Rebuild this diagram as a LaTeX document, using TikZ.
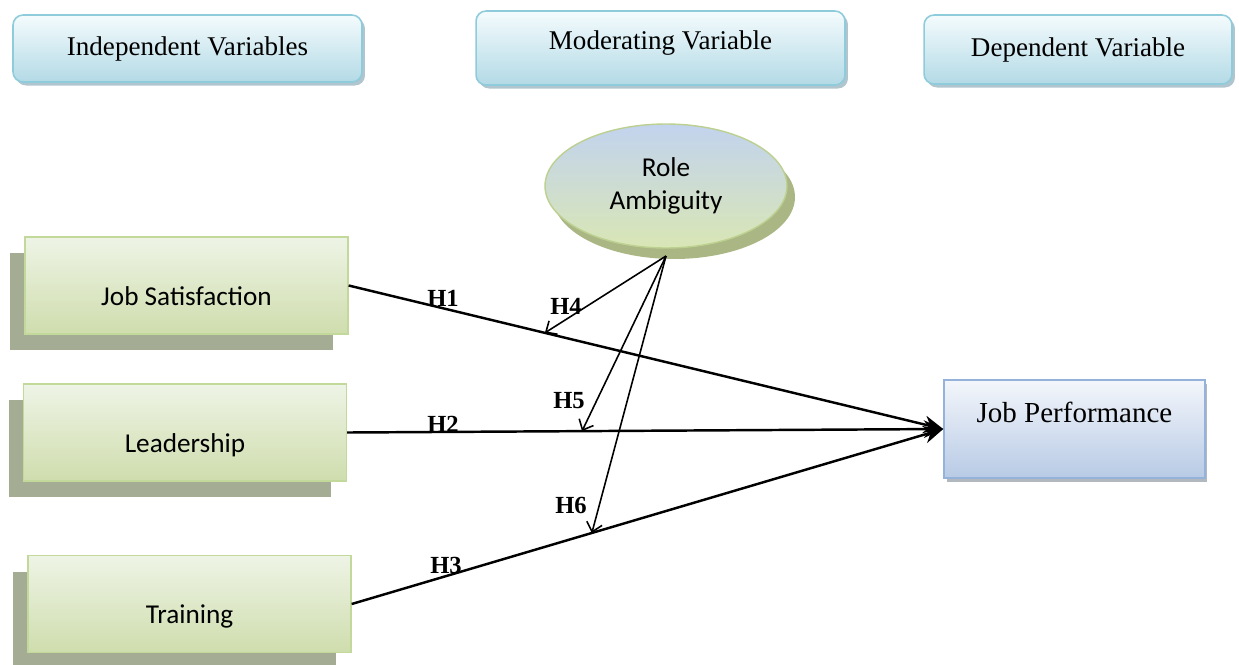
\documentclass[tikz,border=0pt]{standalone}
\usepackage{fontspec}
\setmainfont{Liberation Serif}
\newfontfamily\calibri{Carlito}
\usetikzlibrary{shapes.geometric,shadows,arrows.meta,calc}

\definecolor{hdrline}{HTML}{8ECBDB}
\definecolor{hdrtop}{HTML}{F4FBFD}
\definecolor{hdrbot}{HTML}{B3DAE6}
\definecolor{hdrshadow}{HTML}{7C9FAC}
\definecolor{grnline}{HTML}{C3D99B}
\definecolor{grntop}{HTML}{EEF4E6}
\definecolor{grnbot}{HTML}{CFDDAD}
\definecolor{grnshadow}{HTML}{A4AD93}
\definecolor{ellline}{HTML}{BCD08F}
\definecolor{elltop}{HTML}{C2D3EE}
\definecolor{ellbot}{HTML}{D9E6B5}
\definecolor{ellshadow}{HTML}{AAB684}
\definecolor{jpline}{HTML}{95B3DA}
\definecolor{jptop}{HTML}{F3F6FB}
\definecolor{jpbot}{HTML}{B8CAE5}
\definecolor{jpshadow}{HTML}{9EA6AE}

\begin{document}
\begin{tikzpicture}[x=0.02cm,y=-0.02cm,
  header/.style={draw=hdrline,line width=0.9pt,rounded corners=0.2cm,
    top color=hdrtop,bottom color=hdrbot,
    drop shadow={shadow xshift=0.06cm,shadow yshift=-0.07cm,fill=hdrshadow,opacity=0.6},
    font=\fontsize{15.4}{17}\selectfont},
  varbox/.style={draw=grnline,line width=0.8pt,top color=grntop,bottom color=grnbot,
    minimum width=6.46cm,minimum height=1.94cm,text height=0.88cm,text depth=0.1cm,
    drop shadow={shadow xshift=-0.3cm,shadow yshift=-0.32cm,fill=grnshadow,opacity=1},
    font=\calibri\fontsize{15.5}{17}\selectfont},
  hyp/.style={font=\bfseries\fontsize{14}{16}\selectfont,inner sep=0pt},
  mainarrow/.style={line width=1.4pt,-{Stealth[length=11pt,width=10pt]}},
  modarrow/.style={line width=0.9pt,-{Straight Barb[length=5pt,width=9pt]}}]
\useasboundingbox (0,0) rectangle (1239,664);

% column headers
\node[header,minimum width=6.98cm,minimum height=1.34cm] (iv) at (187.5,48.5) {Independent Variables};
\node[header,minimum width=7.38cm,minimum height=1.48cm,text depth=0.32cm] (mv) at (660.5,48) {Moderating Variable};
\node[header,minimum width=6.16cm,minimum height=1.38cm] (dv) at (1078,49.5) {Dependent Variable};

% variables
\node[ellipse,draw=ellline,line width=0.8pt,top color=elltop,bottom color=ellbot,
  minimum width=4.84cm,minimum height=2.48cm,align=center,
  drop shadow={shadow xshift=0.16cm,shadow yshift=-0.22cm,fill=ellshadow,opacity=1},
  font=\calibri\fontsize{15.5}{18.7}\selectfont] (ra) at (666,186) {Role\\Ambiguity};
\node[varbox] (js) at (186.5,285.5) {Job Satisfaction};
\node[varbox] (ld) at (185,432.5) {Leadership};
\node[varbox] (tr) at (189.5,604) {Training};
\node[draw=jpline,line width=0.9pt,top color=jptop,bottom color=jpbot,
  minimum width=5.22cm,inner ysep=0pt,text height=0.84cm,text depth=1.12cm,
  drop shadow={shadow xshift=0.05cm,shadow yshift=-0.07cm,fill=jpshadow,opacity=0.8},
  font=\fontsize{16.5}{18}\selectfont] (jp) at (1074.5,429) {Job Performance};

% direct paths
\draw[mainarrow] (js.east) -- (jp.west);
\draw[mainarrow] (ld.east) -- (jp.west);
\draw[mainarrow] (tr.east) -- (jp.west);

% moderating paths
\coordinate (rafoot) at (666,256);
\coordinate (h4end) at ($(js.east)!0.33!(jp.west)$);
\coordinate (h5end) at ($(ld.east)!0.394!(jp.west)$);
\coordinate (h6end) at ($(tr.east)!0.406!(jp.west)$);
\draw[modarrow] (rafoot) -- (h4end);
\draw[modarrow] (rafoot) -- (h5end);
\draw[modarrow] (rafoot) -- (h6end);

% hypothesis labels
\node[hyp] (h1) at (443,298) {H1};
\node[hyp] (h2) at (443,424) {H2};
\node[hyp] (h3) at (446,565) {H3};
\node[hyp] (h4) at (566,306) {H4};
\node[hyp] (h5) at (569,401) {H5};
\node[hyp] (h6) at (571,505) {H6};
\end{tikzpicture}
\end{document}
